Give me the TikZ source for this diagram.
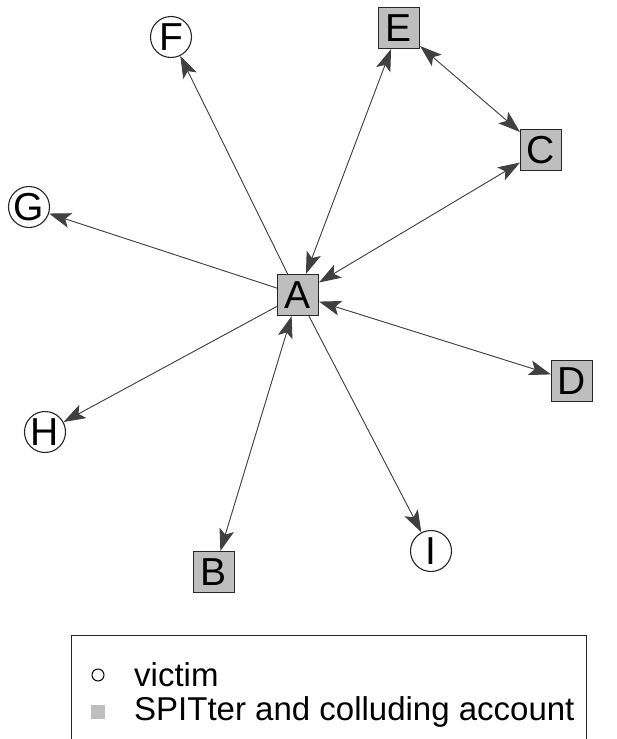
\documentclass[tikz,border=0pt]{standalone}
\usepackage{fontspec}
\setmainfont{Liberation Sans}
\usetikzlibrary{arrows.meta}
\definecolor{nodegray}{HTML}{BEBEBE}
\definecolor{edgegray}{HTML}{404040}
\definecolor{rimgray}{HTML}{262626}
\begin{document}
\begin{tikzpicture}[x=1pt,y=-1pt,
  vertex/.style={draw=rimgray, line width=1.1pt, minimum size=41pt, inner sep=0pt,
    font=\fontsize{39}{39}\selectfont},
  victim/.style={vertex, circle, fill=white},
  spitter/.style={vertex, rectangle, fill=nodegray},
  tip/.tip={Stealth[length=22pt,width=15pt,inset=5pt]},
  link/.style={draw=edgegray, fill=edgegray, line width=0.9pt, -tip},
  mutual/.style={draw=edgegray, fill=edgegray, line width=0.9pt, tip-tip},
  legendtext/.style={anchor=west, inner sep=0pt, font=\fontsize{33}{33}\selectfont}
]
\useasboundingbox (0,0) rectangle (616,739);

% accounts
\node[spitter] (A) at (298,295) {A};
\node[spitter] (E) at (399,28)  {E};
\node[spitter] (C) at (541,150) {C};
\node[spitter] (D) at (572,381) {D};
\node[spitter] (B) at (214,572) {B};
\node[victim]  (F) at (171,37)  {F};
\node[victim]  (G) at (29,207)  {G};
\node[victim]  (H) at (45,432)  {H};
\node[victim]  (I) at (431,551) {I};

% calls
\draw[link]   (A) -- (F);
\draw[link]   (A) -- (G);
\draw[link]   (A) -- (H);
\draw[link]   (A) -- (I);
\draw[mutual] (A) -- (E);
\draw[mutual] (E) -- (C);
\draw[mutual] (C) -- (A);
\draw[mutual] (A) -- (D);
\draw[mutual] (A) -- (B);

% legend
\coordinate (boxtl) at (71,635);
\coordinate (boxbr) at (586,760);
\draw[line width=1pt, draw=rimgray] (boxtl) rectangle (boxbr);
\node[draw=black, circle, line width=1pt, minimum size=12pt, inner sep=0pt] (mkvictim) at (98,675) {};
\node[fill=nodegray, minimum size=14pt, inner sep=0pt] (mkspitter) at (98,712) {};
\node[legendtext] (lvictim) at (134,675) {victim};
\node[legendtext] (lspitter) at (134,712) {SPITter and colluding account};
\end{tikzpicture}
\end{document}
